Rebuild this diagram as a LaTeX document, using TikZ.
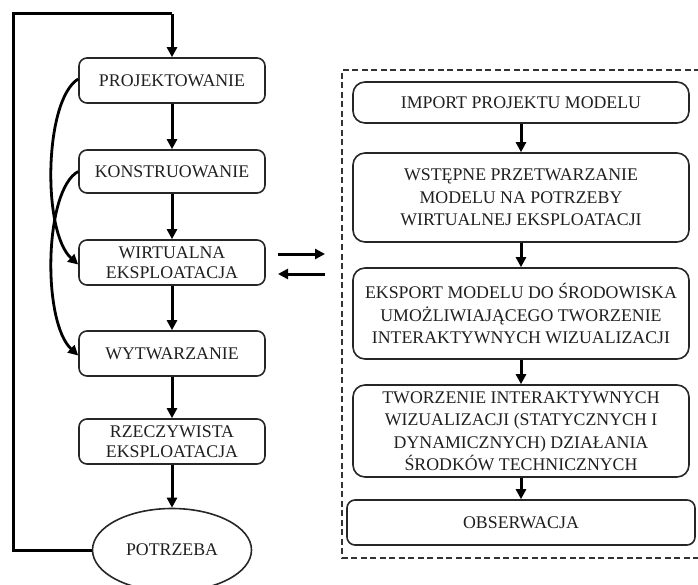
\documentclass[tikz,border=0pt]{standalone}
\usepackage{fontspec}
\setmainfont{Liberation Serif}
\usetikzlibrary{arrows.meta,shapes.geometric}
\begin{document}
\begin{tikzpicture}[x=1pt,y=-1pt,
  lbox/.style={draw=black!85, line width=1.6pt, rounded corners=8pt, minimum width=186pt, minimum height=45pt, align=center, inner sep=0pt, font=\fontsize{17.8}{20}\selectfont, text=black!88},
  rbox/.style={draw=black!85, line width=1.6pt, rounded corners=12pt, minimum width=336pt, align=center, inner sep=0pt, font=\fontsize{17.8}{22.5}\selectfont, text=black!88},
  ell/.style={draw=black!85, line width=1.6pt, ellipse, minimum width=159pt, minimum height=83pt, inner sep=0pt, font=\fontsize{17.8}{20}\selectfont, text=black!88},
  conn/.style={line width=3pt, -{Triangle[length=10pt,width=10pt]}},
  plain/.style={line width=3pt},
  frame/.style={line width=1.6pt, dash pattern=on 6pt off 3.5pt, black!80}]
\useasboundingbox (0,0) rectangle (698,585);
\clip (0,0) rectangle (698,585);
% left column
\node[lbox] (proj) at (172,80.5) {PROJEKTOWANIE};
\node[lbox, minimum height=43pt] (kons) at (172,171.5) {KONSTRUOWANIE};
\node[lbox] (wirt) at (172,262.5) {WIRTUALNA\\EKSPLOATACJA};
\node[lbox] (wytw) at (172,353.5) {WYTWARZANIE};
\node[lbox] (rzecz) at (172,441.5) {RZECZYWISTA\\EKSPLOATACJA};
\node[ell] (potrz) at (172,550) {POTRZEBA};
\draw[conn] (proj) -- (kons);
\draw[conn] (kons) -- (wirt);
\draw[conn] (wirt) -- (wytw);
\draw[conn] (wytw) -- (rzecz);
\draw[conn] (rzecz) -- (potrz);
\coordinate (lb) at (13,550);
\coordinate (lt) at (13,14);
\coordinate (tt) at (172,14);
\draw[plain] (potrz.west) -- (lb) -- (lt) -- (tt);
\draw[conn] (tt) -- (proj.north);
% curved arrows
\draw[line width=2.8pt, -{Triangle[length=10pt,width=10pt]}] ([yshift=1.5pt]proj.west) .. controls (44,100) and (42,232) .. ([yshift=-2pt]wirt.west);
\draw[line width=2.8pt, -{Triangle[length=10pt,width=10pt]}] (kons.west) .. controls (44,190) and (42,322) .. ([yshift=-2pt]wytw.west);
% arrows between columns
\coordinate (a1) at (278,254);
\coordinate (a2) at (325,254);
\coordinate (b1) at (325,274);
\coordinate (b2) at (278,274);
\draw[conn] (a1) -- (a2);
\draw[conn] (b1) -- (b2);
% dashed frame
\draw[frame] (700,70) -- (342,70) -- (342,558) -- (700,558);
% right column
\node[rbox, minimum height=41pt] (imp) at (521,102.5) {IMPORT PROJEKTU MODELU};
\node[rbox, minimum height=89pt] (wst) at (521,197.5) {WSTĘPNE PRZETWARZANIE\\MODELU NA POTRZEBY\\WIRTUALNEJ EKSPLOATACJI};
\node[rbox, minimum height=91pt] (eks) at (521,313.5) {EKSPORT MODELU DO ŚRODOWISKA\\UMOŻLIWIAJĄCEGO TWORZENIE\\INTERAKTYWNYCH WIZUALIZACJI};
\node[rbox, minimum height=92pt] (two) at (521,431) {TWORZENIE INTERAKTYWNYCH\\WIZUALIZACJI (STATYCZNYCH I\\DYNAMICZNYCH) DZIAŁANIA\\ŚRODKÓW TECHNICZNYCH};
\node[rbox, minimum height=45pt, minimum width=348pt, rounded corners=8pt] (obs) at (521,522.5) {OBSERWACJA};
\draw[conn] (imp) -- (wst);
\draw[conn] (wst) -- (eks);
\draw[conn] (eks) -- (two);
\draw[conn] (two) -- (obs);
\end{tikzpicture}
\end{document}
